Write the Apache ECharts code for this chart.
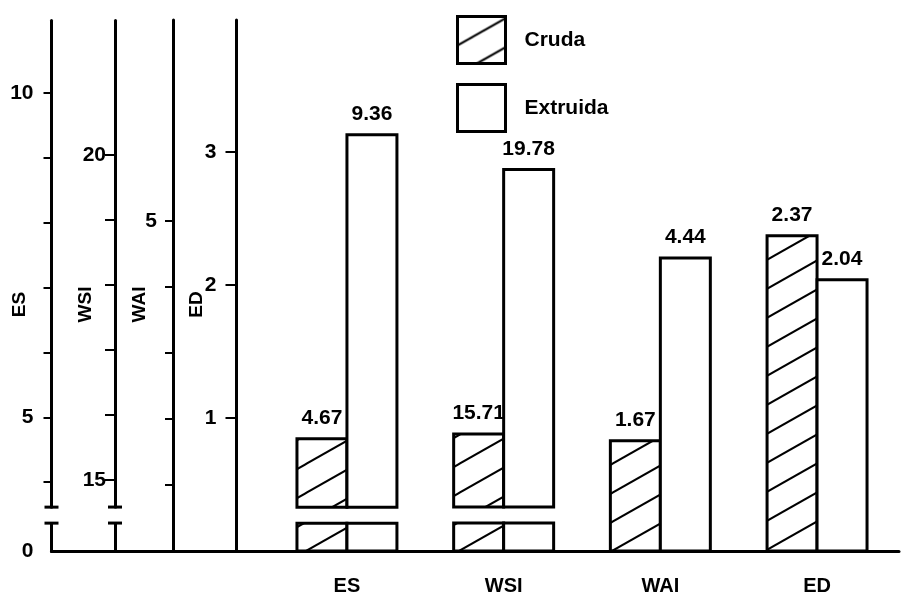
<!DOCTYPE html>
<html><head><meta charset="utf-8">
<script src="https://cdn.jsdelivr.net/npm/echarts@6/dist/echarts.min.js"></script>
<style>html,body{margin:0;padding:0;background:#fff}#c{width:901px;height:596px}</style>
</head><body><div id="c"></div>
<script>
// ---- data ----
const categories = ['ES', 'WSI', 'WAI', 'ED'];
const cruda = [4.67, 15.71, 1.67, 2.37];
const extruida = [9.36, 19.78, 4.44, 2.04];
const legendNames = ['Cruda', 'Extruida'];
const axisNames = ['ES', 'WSI', 'WAI', 'ED'];
const axisTicks = [[4, 5, 6, 7, 8, 9, 10], [15, 16, 17, 18, 19, 20], [1, 2, 3, 4, 5], [1, 2, 3]];
const axisLabels = [[0, 5, 10], [15, 20], [5], [1, 2, 3]];
const axisMax = [11.13, 22.08, 8.045, 3.992];
const axisBreaks = [{ start: 0.43, end: 3.614 }, { start: 0.43, end: 14.585 }, null, null];

// ---- layout / style ----
const FONT = '"Liberation Sans", Arial, sans-serif';
const GRID_LEFT = 268.6, GRID_RIGHT = 5.6, GRID_TOP = 20, GRID_BOTTOM = 45;
const axisX = [51.5, 115, 173, 236.5];
const tickLen = [8, 10, 8, 11];
const labelMargin = [18, 9, 16, 20];
const nameGap = [22, 20, 24, 30];
const BREAK_GAP = 16;
const BAR_FRAC = 0.319;
const plotH = 596 - GRID_TOP - GRID_BOTTOM;

function makeHatch() {
  const W = 51, H = 29;
  const c = document.createElement('canvas');
  c.width = W; c.height = H;
  const g = c.getContext('2d');
  g.fillStyle = '#fff'; g.fillRect(0, 0, W, H);
  g.strokeStyle = '#000'; g.lineWidth = 2;
  const s = H / W;
  [-H, 0, H].forEach(dy => {
    g.beginPath();
    g.moveTo(-6, H + dy + 6 * s);
    g.lineTo(W + 6, dy - 6 * s);
    g.stroke();
  });
  return c;
}
const hatchFill = { image: makeHatch(), repeat: 'repeat' };

function makeBar(k, brk) {
  return function (params, api) {
    const ci = api.value(0), v = api.value(1);
    const band = api.size([1, 0])[0];
    const w = band * BAR_FRAC;
    const c = api.coord([ci, v]);
    const x0 = k === 0 ? c[0] - w : c[0];
    const yTop = c[1];
    const yBase = api.coord([ci, 0])[1];
    const st = { fill: k === 0 ? hatchFill : '#fff', stroke: '#000', lineWidth: 3 };
    const kids = [];
    if (brk) {
      const yE = api.coord([ci, brk.end])[1];
      const yS = api.coord([ci, brk.start])[1];
      kids.push({ type: 'rect', shape: { x: x0, y: yTop, width: w, height: yE - yTop }, style: st });
      kids.push({ type: 'rect', shape: { x: x0, y: yS, width: w, height: yBase - yS }, style: st });
    } else {
      kids.push({ type: 'rect', shape: { x: x0, y: yTop, width: w, height: yBase - yTop }, style: st });
    }
    kids.push({ type: 'text', x: x0 + w / 2, y: yTop - 10,
      style: { text: v.toFixed(2), font: 'bold 21px ' + FONT, fill: '#000', align: 'center', verticalAlign: 'bottom' } });
    return { type: 'group', children: kids };
  };
}

function makeBreakMark(i, brk) {
  return function (params, api) {
    const ax = params.coordSys.x - (GRID_LEFT - axisX[i]);
    const y1 = api.coord([0, brk.start])[1];
    const y2 = api.coord([0, brk.end])[1];
    return { type: 'group', children: [
      { type: 'rect', shape: { x: ax - 4, y: y2 + 1.5, width: 8, height: y1 - y2 - 3 }, style: { fill: '#fff' } },
      { type: 'line', shape: { x1: ax - 7, y1: y1, x2: ax + 7, y2: y1 }, style: { stroke: '#000', lineWidth: 3 } },
      { type: 'line', shape: { x1: ax - 7, y1: y2, x2: ax + 7, y2: y2 }, style: { stroke: '#000', lineWidth: 3 } }
    ] };
  };
}

const yAxes = axisNames.map((n, i) => {
  const ax = {
    type: 'value', gridIndex: 1, position: 'left', offset: GRID_LEFT - axisX[i],
    min: 0, max: axisMax[i],
    name: n, nameLocation: 'middle', nameRotate: 90, nameGap: nameGap[i], nameMoveOverlap: false,
    nameTextStyle: { fontFamily: FONT, fontWeight: 'bold', fontSize: 19, color: '#000', padding: [0, 38, 0, 0] },
    axisLine: { show: true, onZero: false, lineStyle: { color: '#000', width: 3 } },
    axisTick: { show: true, length: tickLen[i], customValues: axisTicks[i], lineStyle: { color: '#000', width: 2 } },
    axisLabel: { show: true, customValues: axisLabels[i], margin: labelMargin[i],
      fontFamily: FONT, fontWeight: 'bold', fontSize: 21, color: '#000' },
    splitLine: { show: false }
  };
  if (axisBreaks[i]) {
    ax.breaks = [{ start: axisBreaks[i].start, end: axisBreaks[i].end,
      gap: (BREAK_GAP / plotH * 100).toFixed(3) + '%' }];
    ax.breakArea = { show: false };
  }
  return ax;
});
yAxes.push({ type: 'value', gridIndex: 0, show: false, min: 0, max: 1 });

const series = [];
categories.forEach((cat, i) => {
  [cruda, extruida].forEach((arr, k) => {
    series.push({ type: 'custom', name: legendNames[k], xAxisIndex: 0, yAxisIndex: i,
      data: [[i, arr[i]]], renderItem: makeBar(k, axisBreaks[i]), z: 3 });
  });
  if (axisBreaks[i]) {
    series.push({ type: 'custom', xAxisIndex: 0, yAxisIndex: i, silent: true,
      data: [[0, axisBreaks[i].start]], renderItem: makeBreakMark(i, axisBreaks[i]), z: 4 });
  }
});

const chart = echarts.init(document.getElementById('c'), null, { renderer: 'canvas' });
chart.setOption({
  animation: false,
  backgroundColor: '#fff',
  grid: [
    { left: axisX[0], right: 2, top: GRID_TOP, bottom: GRID_BOTTOM, outerBoundsMode: 'none', containLabel: false },
    { left: GRID_LEFT, right: GRID_RIGHT, top: GRID_TOP, bottom: GRID_BOTTOM, outerBoundsMode: 'none', containLabel: false }
  ],
  legend: {
    orient: 'vertical', left: 451, top: 10, itemWidth: 48, itemHeight: 47, itemGap: 18,
    selectedMode: false,
    data: [
      { name: legendNames[0], icon: 'rect', itemStyle: { color: hatchFill, borderColor: '#000', borderWidth: 3 } },
      { name: legendNames[1], icon: 'rect', itemStyle: { color: '#fff', borderColor: '#000', borderWidth: 3 } }
    ],
    textStyle: { fontFamily: FONT, fontWeight: 'bold', fontSize: 21, color: '#000', padding: [0, 0, 0, 14] }
  },
  xAxis: [
    { type: 'category', gridIndex: 1, data: categories,
      axisLine: { onZero: false, lineStyle: { color: '#000', width: 3 } },
      axisTick: { show: false },
      axisLabel: { margin: 25, fontFamily: FONT, fontWeight: 'bold', fontSize: 20, color: '#000' },
      splitLine: { show: false } },
    { type: 'value', gridIndex: 0, min: 0, max: 1,
      axisLine: { onZero: false, lineStyle: { color: '#000', width: 3 } },
      axisTick: { show: false }, axisLabel: { show: false }, splitLine: { show: false } }
  ],
  yAxis: yAxes,
  series: series
});
</script>
</body></html>
